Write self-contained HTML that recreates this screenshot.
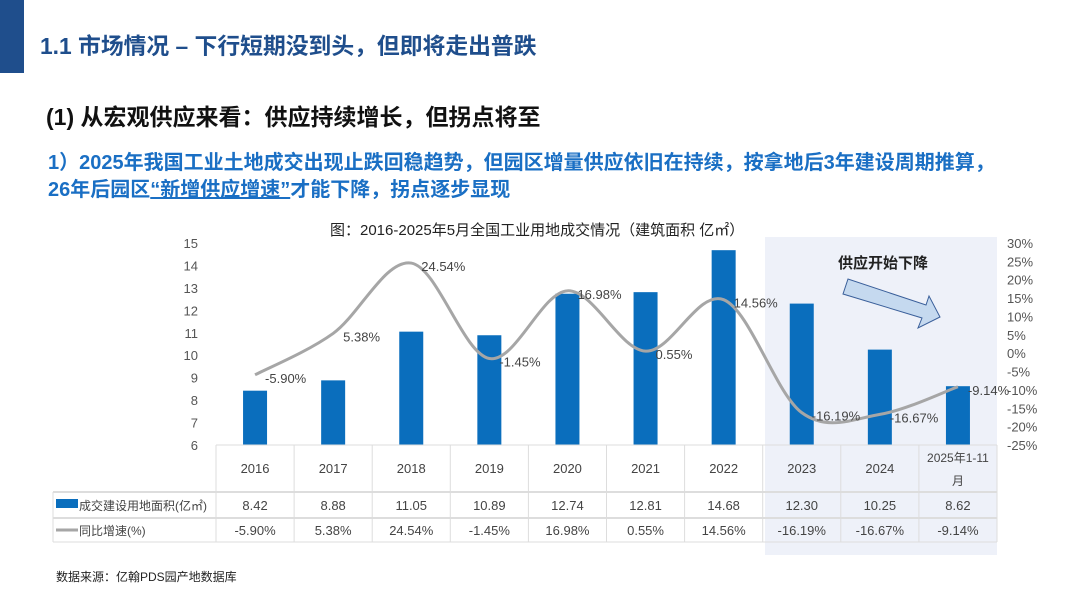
<!DOCTYPE html>
<html><head><meta charset="utf-8"><style>
body{margin:0;width:1080px;height:608px;background:#fff;font-family:"Liberation Sans","Noto Sans CJK SC",sans-serif;overflow:hidden;position:relative}
.abs{position:absolute;white-space:nowrap}
</style></head><body>
<div class="abs" style="left:0;top:0;width:24px;height:73px;background:#1f4e8c"></div>
<div class="abs" style="left:40px;top:28px;font-size:22.8px;font-weight:bold;color:#1f4e8c">1.1 市场情况 – 下行短期没到头，但即将走出普跌</div>
<div class="abs" style="left:46px;top:98px;font-size:23px;font-weight:bold;color:#111">(1) 从宏观供应来看：供应持续增长，但拐点将至</div>
<div class="abs" style="left:48px;top:150px;font-size:20px;font-weight:bold;color:#1a6fc4;line-height:27px">1）2025年我国工业土地成交出现止跌回稳趋势，但园区增量供应依旧在持续，按拿地后3年建设周期推算，<br>26年后园区<span style="text-decoration:underline">“新增供应增速”</span>才能下降，拐点逐步显现</div>
<div class="abs" style="left:330px;top:219px;font-size:15px;color:#222">图：2016-2025年5月全国工业用地成交情况（建筑面积 亿㎡）</div>
<svg id="chart" class="abs" style="left:0;top:0" width="1080" height="608"></svg>
<div class="abs" style="left:56px;top:568px;font-size:12px;color:#222">数据来源：亿翰PDS园产地数据库</div>
<script>
const categories=["2016","2017","2018","2019","2020","2021","2022","2023","2024","2025年1-11月"];
const areaValues=[8.42,8.88,11.05,10.89,12.74,12.81,14.68,12.30,10.25,8.62];
const growthValues=[-5.90,5.38,24.54,-1.45,16.98,0.55,14.56,-16.19,-16.67,-9.14];
const leftTicks=[6,7,8,9,10,11,12,13,14,15];
const rightTicks=[30,25,20,15,10,5,0,-5,-10,-15,-20,-25];
const NS="http://www.w3.org/2000/svg";
const svg=document.getElementById('chart');
const X0=216,X1=997,Y0=445,Y1=243;
const colW=(X1-X0)/categories.length;
const xc=i=>X0+colW*(i+0.5);
const yL=v=>Y0-(v-6)/(15-6)*(Y0-Y1);
const yR=v=>Y0-(v+25)/55*(Y0-Y1);
function el(t,a,txt){const e=document.createElementNS(NS,t);for(const k in a)e.setAttribute(k,a[k]);if(txt!==undefined)e.textContent=txt;svg.appendChild(e);return e;}
let sh=el('rect',{x:765,y:237,width:232,height:318,fill:'#eef1f9'});


leftTicks.forEach(v=>{let t=el('text',{x:198,y:yL(v)+5,'text-anchor':'end','font-size':13,fill:'#555'},v);

});
rightTicks.forEach(v=>{let t=el('text',{x:1007,y:yR(v)+5,'font-size':13,fill:'#555'},v+'%');

});
areaValues.forEach((v,i)=>{let b=el('rect',{x:xc(i)-12,y:yL(v),width:24,height:Y0-yL(v),fill:'#0a6ebd'});

});
const pts=growthValues.map((v,i)=>[xc(i),yR(v)]);
let d='M'+pts[0][0]+','+pts[0][1];
for(let i=0;i<pts.length-1;i++){const p0=pts[i-1]||pts[i],p1=pts[i],p2=pts[i+1],p3=pts[i+2]||p2;const t=6;
d+=` C${p1[0]+(p2[0]-p0[0])/t},${p1[1]+(p2[1]-p0[1])/t} ${p2[0]-(p3[0]-p1[0])/t},${p2[1]-(p3[1]-p1[1])/t} ${p2[0]},${p2[1]}`;}
let ln=el('path',{d:d,fill:'none',stroke:'#a6a6a6','stroke-width':3});


growthValues.forEach((v,i)=>{let t=el('text',{x:xc(i)+10,y:yR(v)+8,'font-size':13,fill:'#444'},v.toFixed(2)+'%');

});
const TL=53;
el('line',{x1:X0,y1:445,x2:X1,y2:445,stroke:'#ddd'});
[492,518,542].forEach(y=>el('line',{x1:TL,y1:y,x2:X1,y2:y,stroke:'#ddd','stroke-width':y==542?1:2}));
for(let i=0;i<=categories.length;i++)el('line',{x1:X0+colW*i,y1:445,x2:X0+colW*i,y2:542,stroke:'#ddd'});
el('line',{x1:TL,y1:492,x2:TL,y2:542,stroke:'#ddd'});
categories.forEach((c,i)=>{
 if(i==9){el('text',{x:xc(i),y:462,'text-anchor':'middle','font-size':12,fill:'#444'},'2025年1-11');el('text',{x:xc(i),y:485,'text-anchor':'middle','font-size':12,fill:'#444'},'月');}
 else{let t=el('text',{x:xc(i),y:473,'text-anchor':'middle','font-size':13,fill:'#444'},c);
 
 }
 el('text',{x:xc(i),y:510,'text-anchor':'middle','font-size':13,fill:'#444'},areaValues[i].toFixed(2));
 el('text',{x:xc(i),y:535,'text-anchor':'middle','font-size':13,fill:'#444'},growthValues[i].toFixed(2)+'%');
});
let lg1=el('rect',{x:56,y:499,width:22,height:9,fill:'#0a6ebd'});


el('text',{x:79,y:510,'font-size':12,fill:'#444'},'成交建设用地面积(亿㎡)');
let lg2=el('line',{x1:56,y1:530,x2:78,y2:530,stroke:'#a6a6a6','stroke-width':3});


el('text',{x:79,y:535,'font-size':12,fill:'#444'},'同比增速(%)');
let at=el('text',{x:838,y:268,'font-size':15,'font-weight':'bold',fill:'#222'},'供应开始下降');


let ar=el('polygon',{points:'843,294 848,279 926,305 929,296 940,317 918,328 922,318',fill:'#c5d9ef',stroke:'#3a5f9a','stroke-width':1});


</script>
</body></html>
